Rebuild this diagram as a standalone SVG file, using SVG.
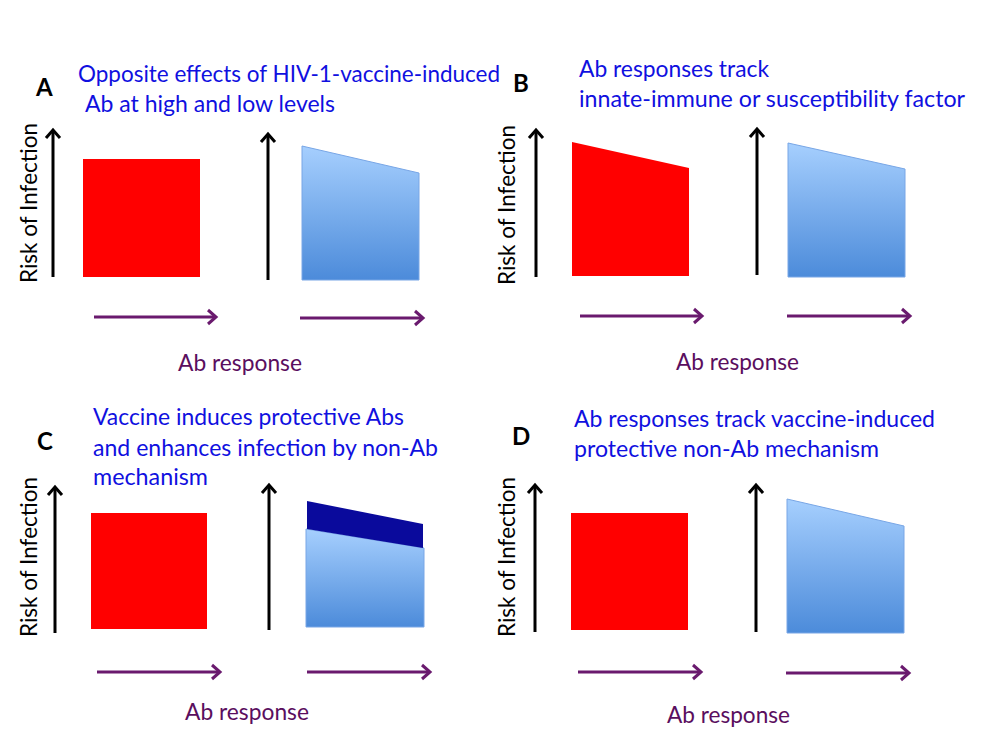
<svg xmlns="http://www.w3.org/2000/svg" width="1000" height="750" viewBox="0 0 1000 750">
<style>
.t{font-family:Lato,"Liberation Sans",sans-serif;font-size:23px;fill:#1010e0}
.lbl{font-family:Lato,"Liberation Sans",sans-serif;font-size:24px;font-weight:bold;fill:#000}
.ax{font-family:Lato,"Liberation Sans",sans-serif;font-size:23px;fill:#5a0e5e}
.risk{font-family:Lato,"Liberation Sans",sans-serif;font-size:23px;fill:#000}
.red{fill:#ff0000}
.blue{fill:url(#bg);stroke:#78a6e6;stroke-width:1}
.navy{fill:#0a0a9c}
.y{stroke:#000;stroke-width:3;fill:none;marker-end:url(#hb)}
.x{stroke:#6a1a6e;stroke-width:3;fill:none;marker-end:url(#hp)}
</style>
<defs>
<linearGradient id="bg" x1="0" y1="0" x2="0" y2="1">
<stop offset="0" stop-color="#a6cffe"/>
<stop offset="1" stop-color="#4c8bda"/>
</linearGradient>
<marker id="hb" markerUnits="userSpaceOnUse" markerWidth="20" markerHeight="20" refX="10" refY="10" orient="auto" overflow="visible">
<path d="M2,3 L10,10 L2,17" fill="none" stroke="#000" stroke-width="3"/>
</marker>
<marker id="hp" markerUnits="userSpaceOnUse" markerWidth="20" markerHeight="20" refX="10" refY="10" orient="auto" overflow="visible">
<path d="M2,3 L10,10 L2,17" fill="none" stroke="#6a1a6e" stroke-width="3"/>
</marker>
</defs>
<rect width="1000" height="750" fill="#fff"/>

<g id="panelA">
<text class="lbl" x="36" y="96">A</text>
<text class="t" x="78" y="82" textLength="422" lengthAdjust="spacingAndGlyphs">Opposite effects of HIV-1-vaccine-induced</text>
<text class="t" x="85" y="112" textLength="250" lengthAdjust="spacingAndGlyphs">Ab at high and low levels</text>
<text class="risk" transform="translate(37,283) rotate(-90)" textLength="160" lengthAdjust="spacingAndGlyphs">Risk of Infection</text>
<g id="A-red"><rect class="red" x="83" y="159" width="117" height="118"/></g>
<g id="A-blue"><polygon class="blue" points="302,146 419,173 419,280 302,280"/></g>
<text class="ax" x="178" y="371" textLength="124" lengthAdjust="spacingAndGlyphs">Ab response</text>
</g>

<g id="panelB">
<text class="lbl" x="513" y="92">B</text>
<text class="t" x="579" y="77" textLength="190" lengthAdjust="spacingAndGlyphs">Ab responses track</text>
<text class="t" x="579" y="107" textLength="386" lengthAdjust="spacingAndGlyphs">innate-immune or susceptibility factor</text>
<text class="risk" transform="translate(515,285) rotate(-90)" textLength="160" lengthAdjust="spacingAndGlyphs">Risk of Infection</text>
<g id="B-red"><polygon class="red" points="572,142 689,168 689,276 572,276"/></g>
<g id="B-blue"><polygon class="blue" points="788,143 905,169 905,277 788,277"/></g>
<text class="ax" x="676" y="370" textLength="123" lengthAdjust="spacingAndGlyphs">Ab response</text>
</g>

<g id="panelC">
<text class="lbl" x="37" y="450">C</text>
<text class="t" x="93" y="425" textLength="311" lengthAdjust="spacingAndGlyphs">Vaccine induces protective Abs</text>
<text class="t" x="93" y="456" textLength="345" lengthAdjust="spacingAndGlyphs">and enhances infection by non-Ab</text>
<text class="t" x="93" y="485" textLength="115" lengthAdjust="spacingAndGlyphs">mechanism</text>
<text class="risk" transform="translate(37,637) rotate(-90)" textLength="160" lengthAdjust="spacingAndGlyphs">Risk of Infection</text>
<g id="C-red"><rect class="red" x="91" y="513" width="116" height="116"/></g>
<g id="C-blue"><polygon class="blue" points="306,529 424,548 424,627 306,627"/></g>
<g id="C-navy"><polygon class="navy" points="307,501 423,524 423,548 307,529"/></g>
<text class="ax" x="185" y="720" textLength="124" lengthAdjust="spacingAndGlyphs">Ab response</text>
</g>

<g id="panelD">
<text class="lbl" x="512" y="445">D</text>
<text class="t" x="574" y="427" textLength="361" lengthAdjust="spacingAndGlyphs">Ab responses track vaccine-induced</text>
<text class="t" x="574" y="457" textLength="305" lengthAdjust="spacingAndGlyphs">protective non-Ab mechanism</text>
<text class="risk" transform="translate(515,637) rotate(-90)" textLength="160" lengthAdjust="spacingAndGlyphs">Risk of Infection</text>
<g id="D-red"><rect class="red" x="571" y="513" width="117" height="117"/></g>
<g id="D-blue"><polygon class="blue" points="787,499 904,526 904,633 787,633"/></g>
<text class="ax" x="667" y="723" textLength="123" lengthAdjust="spacingAndGlyphs">Ab response</text>
</g>

<g id="connectors">
<line class="y" x1="53" y1="277" x2="53" y2="130"/>
<line class="y" x1="268" y1="280" x2="268" y2="134"/>
<line class="x" x1="94" y1="317" x2="216" y2="317"/>
<line class="x" x1="300" y1="318" x2="423" y2="318"/>

<line class="y" x1="536" y1="277" x2="536" y2="130"/>
<line class="y" x1="757" y1="275" x2="757" y2="129"/>
<line class="x" x1="580" y1="316" x2="702" y2="316"/>
<line class="x" x1="787" y1="316" x2="910" y2="316"/>

<line class="y" x1="55" y1="633" x2="55" y2="487"/>
<line class="y" x1="269" y1="630" x2="269" y2="485"/>
<line class="x" x1="97" y1="672" x2="220" y2="672"/>
<line class="x" x1="307" y1="672" x2="430" y2="672"/>

<line class="y" x1="535" y1="632" x2="535" y2="485"/>
<line class="y" x1="756" y1="632" x2="756" y2="485"/>
<line class="x" x1="578" y1="672" x2="701" y2="672"/>
<line class="x" x1="786" y1="673" x2="909" y2="673"/>
</g>
</svg>
